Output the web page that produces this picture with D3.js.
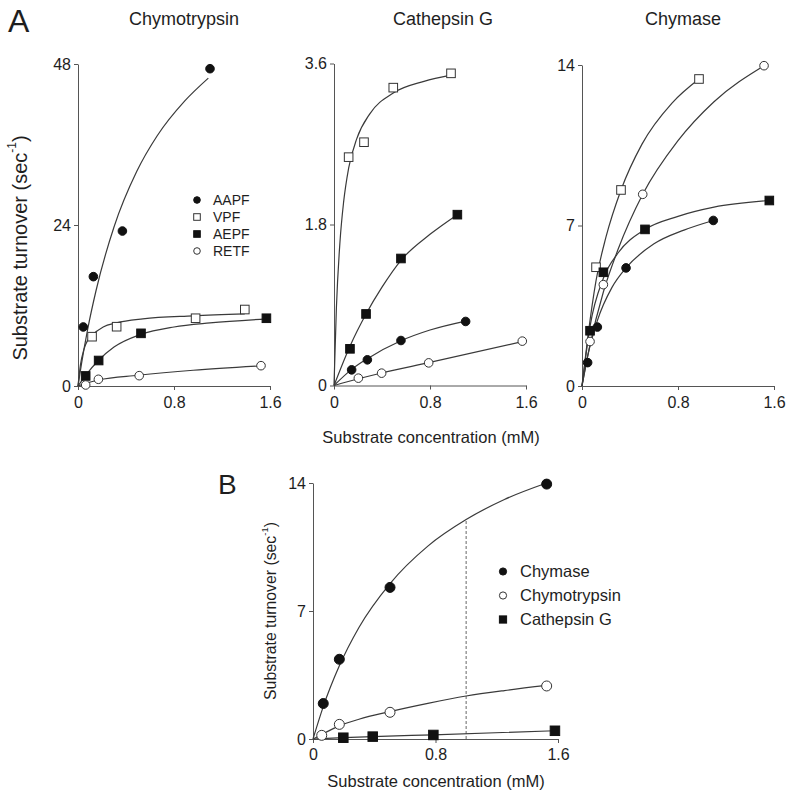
<!DOCTYPE html>
<html><head><meta charset="utf-8">
<script src="https://cdn.jsdelivr.net/npm/d3@7"></script>
<style>
body{margin:0;background:#fff}
svg{display:block}
text{font-family:"Liberation Sans",Arial,Helvetica,sans-serif;fill:#1e1e1e}
</style>
</head><body>
<svg id="chart" width="800" height="802"></svg>
<script>
// ---------- tick labels / categories ----------
const xTickValues = [0, 0.8, 1.6];
const panelTitles = ["Chymotrypsin", "Cathepsin G", "Chymase"];
const yTicksChymotrypsin = [0, 24, 48];
const yTicksCathepsinG = [0, 1.8, 3.6];
const yTicksChymase = [0, 7, 14];
const yTicksB = [0, 7, 14];
const substrates = ["AAPF", "VPF", "AEPF", "RETF"];
const enzymesB = ["Chymase", "Chymotrypsin", "Cathepsin G"];

// ---------- Panel A: Chymotrypsin (x mM, y sec^-1) ----------
const chyAAPF = [[0.044,8.8],[0.128,16.3],[0.37,23.1],[1.1,47.3]];
const chyAAPFfit = [[0,0],[0.03,3.4],[0.08,8.4],[0.15,14.2],[0.3,23.7],[0.49,32],[0.66,37.3],[0.89,42.5],[1.086,45.9]];
const chyVPF = [[0.117,7.35],[0.322,8.84],[0.98,10.1],[1.39,11.4]];
const chyVPFfit = [[0,0],[0.02,3.1],[0.05,5.5],[0.08,6.8],[0.114,7.5],[0.21,8.8],[0.32,9.4],[0.54,10.0],[0.96,10.45],[1.39,10.75]];
const chyAEPF = [[0.064,1.5],[0.172,3.8],[0.525,7.85],[1.57,10.1]];
const chyAEPFfit = [[0,0],[0.064,1.6],[0.17,3.8],[0.3,5.8],[0.525,7.7],[0.8,8.8],[1.1,9.4],[1.57,10.0]];
const chyRETF = [[0.064,0.15],[0.17,1.0],[0.51,1.54],[1.525,3.03]];
const chyRETFfit = [[0,0],[0.064,0.4],[0.17,0.9],[0.5,1.6],[0.96,2.35],[1.52,3.0]];

// ---------- Panel A: Cathepsin G ----------
const catVPF = [[0.122,2.553],[0.25,2.72],[0.494,3.33],[0.975,3.49]];
const catVPFfit = [[0,0],[0.02,0.87],[0.05,1.61],[0.08,2.05],[0.122,2.43],[0.19,2.76],[0.3,3.04],[0.494,3.27],[0.75,3.4],[0.975,3.47]];
const catAEPF = [[0.133,0.41],[0.267,0.80],[0.558,1.42],[1.028,1.91]];
const catAEPFfit = [[0,0],[0.133,0.44],[0.267,0.8],[0.4,1.1],[0.558,1.4],[0.8,1.69],[1.028,1.91]];
const catAAPF = [[0.147,0.175],[0.278,0.287],[0.558,0.503],[1.097,0.716]];
const catAAPFfit = [[0,0],[0.147,0.18],[0.278,0.3],[0.558,0.5],[0.8,0.62],[1.097,0.72]];
const catRETF = [[0.203,0.082],[0.397,0.138],[0.789,0.253],[1.569,0.496]];
const catRETFfit = [[0,0],[0.203,0.075],[0.397,0.14],[0.789,0.255],[1.569,0.49]];

// ---------- Panel A: Chymase ----------
const cmaVPF = [[0.117,5.18],[0.325,8.55],[0.975,13.39]];
const cmaVPFfit = [[0,0],[0.05,2.2],[0.117,4.6],[0.2,6.5],[0.325,8.55],[0.5,10.55],[0.75,12.34],[0.975,13.39]];
const cmaRETF = [[0.067,1.94],[0.178,4.42],[0.506,8.36],[1.517,13.97]];
const cmaRETFfit = [[0,0],[0.067,1.8],[0.178,4.1],[0.3,5.95],[0.506,8.36],[0.8,10.7],[1.1,12.4],[1.517,13.97]];
const cmaAEPF = [[0.067,2.41],[0.178,4.96],[0.525,6.83],[1.561,8.09]];
const cmaAEPFfit = [[0,0],[0.067,2.6],[0.178,4.7],[0.3,5.8],[0.525,6.83],[0.8,7.4],[1.1,7.8],[1.561,8.09]];
const cmaAAPF = [[0.047,1.02],[0.128,2.57],[0.367,5.15],[1.094,7.22]];
const cmaAAPFfit = [[0,0],[0.047,1.3],[0.128,2.85],[0.25,4.3],[0.367,5.15],[0.6,6.2],[0.85,6.8],[1.094,7.22]];

// ---------- Panel B: RETF with three enzymes ----------
const bChymase = [[0.067,1.94],[0.172,4.36],[0.503,8.29],[1.526,13.94]];
const bChymaseFit = [[0,0],[0.067,1.77],[0.172,4.0],[0.3,6.1],[0.503,8.5],[0.75,10.55],[1.0,12.0],[1.25,13.1],[1.526,14.0]];
const bChymotrypsin = [[0.057,0.2],[0.172,0.8],[0.503,1.46],[1.526,2.9]];
const bChymotrypsinFit = [[0,0],[0.057,0.25],[0.172,0.72],[0.3,1.08],[0.503,1.5],[0.75,1.95],[1.0,2.35],[1.25,2.65],[1.526,2.93]];
const bCathepsinG = [[0.198,0.07],[0.39,0.13],[0.786,0.22],[1.58,0.45]];
const bCathepsinGFit = [[0,0],[0.198,0.07],[0.39,0.13],[0.786,0.23],[1.58,0.45]];
const bDashX = 1.0;
const bDashTop = 12.0;

// ---------- drawing ----------
const svg = d3.select("#chart");
const AXIS = "#555", CURVE = "#3a3a3a", INK = "#111";

function marker(g, type, cx, cy, r, sq) {
  if (type.startsWith("circle")) {
    g.append("circle").attr("cx", cx).attr("cy", cy).attr("r", r)
      .attr("fill", type.endsWith("Filled") ? INK : "#fff")
      .attr("stroke", type.endsWith("Filled") ? INK : "#333").attr("stroke-width", 1);
  } else {
    const s = sq;
    g.append("rect").attr("x", cx - s/2).attr("y", cy - s/2).attr("width", s).attr("height", s)
      .attr("fill", type.endsWith("Filled") ? INK : "#fff")
      .attr("stroke", type.endsWith("Filled") ? INK : "#333").attr("stroke-width", 1);
  }
}

function panel(cfg) {
  const g = svg.append("g");
  const x = d3.scaleLinear().domain([0, 1.6]).range(cfg.xr);
  const y = d3.scaleLinear().domain([0, cfg.yTicks[2]]).range(cfg.yr);
  const fmt = d => String(d);
  const xa = g.append("g").attr("transform", `translate(0,${cfg.yr[0]})`)
    .call(d3.axisBottom(x).tickValues(xTickValues).tickFormat(fmt).tickSize(4).tickSizeOuter(0).tickPadding(cfg.xpad));
  const ya = g.append("g").attr("transform", `translate(${cfg.xr[0]},0)`)
    .call(d3.axisLeft(y).tickValues(cfg.yTicks).tickFormat(fmt).tickSize(4).tickSizeOuter(0).tickPadding(cfg.ypad));
  [xa, ya].forEach(a => {
    a.selectAll("path,line").attr("stroke", AXIS).attr("stroke-width", 1);
    a.selectAll("text").attr("font-size", 16).attr("fill", "#1e1e1e")
      .attr("font-family", '"Liberation Sans",Arial,sans-serif');
  });
  if (cfg.dash) {
    g.append("line").attr("x1", x(cfg.dash[0])).attr("x2", x(cfg.dash[0]))
      .attr("y1", y(0)).attr("y2", y(cfg.dash[1]))
      .attr("stroke", "#666").attr("stroke-width", 1).attr("stroke-dasharray", "3,2");
  }
  const line = d3.line().x(d => x(d[0])).y(d => y(d[1])).curve(d3.curveMonotoneX);
  cfg.series.forEach(s => {
    g.append("path").datum(s.fit).attr("d", line)
      .attr("fill", "none").attr("stroke", CURVE).attr("stroke-width", 1.2);
  });
  cfg.series.forEach(s => {
    s.pts.forEach(p => marker(g, s.marker, x(p[0]), y(p[1]), cfg.r, cfg.sq));
  });
  if (cfg.title) {
    g.append("text").attr("x", cfg.titleX).attr("y", 25).attr("text-anchor", "middle")
      .attr("font-size", 18).text(cfg.title);
  }
}

panel({xr:[78,270], yr:[386,64], yTicks:yTicksChymotrypsin, xpad:7, ypad:3, r:4.3, sq:8.6,
  title:panelTitles[0], titleX:184,
  series:[
    {pts:chyAAPF, fit:chyAAPFfit, marker:"circleFilled"},
    {pts:chyVPF, fit:chyVPFfit, marker:"squareOpen"},
    {pts:chyAEPF, fit:chyAEPFfit, marker:"squareFilled"},
    {pts:chyRETF, fit:chyRETFfit, marker:"circleOpen"}]});
panel({xr:[334,526], yr:[385.5,63.5], yTicks:yTicksCathepsinG, xpad:7, ypad:3, r:4.3, sq:8.6,
  title:panelTitles[1], titleX:443,
  series:[
    {pts:catVPF, fit:catVPFfit, marker:"squareOpen"},
    {pts:catAEPF, fit:catAEPFfit, marker:"squareFilled"},
    {pts:catAAPF, fit:catAAPFfit, marker:"circleFilled"},
    {pts:catRETF, fit:catRETFfit, marker:"circleOpen"}]});
panel({xr:[582,774], yr:[386,65], yTicks:yTicksChymase, xpad:7, ypad:3, r:4.3, sq:8.6,
  title:panelTitles[2], titleX:683,
  series:[
    {pts:cmaVPF, fit:cmaVPFfit, marker:"squareOpen"},
    {pts:cmaRETF, fit:cmaRETFfit, marker:"circleOpen"},
    {pts:cmaAEPF, fit:cmaAEPFfit, marker:"squareFilled"},
    {pts:cmaAAPF, fit:cmaAAPFfit, marker:"circleFilled"}]});
panel({xr:[313,558], yr:[739,483], yTicks:yTicksB, xpad:6, ypad:3, r:5, sq:9.5, dash:[bDashX, bDashTop],
  series:[
    {pts:bChymase, fit:bChymaseFit, marker:"circleFilled"},
    {pts:bChymotrypsin, fit:bChymotrypsinFit, marker:"circleOpen"},
    {pts:bCathepsinG, fit:bCathepsinGFit, marker:"squareFilled"}]});

// legends
const legA = svg.append("g");
const legAMarkers = ["circleFilled","squareOpen","squareFilled","circleOpen"];
substrates.forEach((s, i) => {
  const yb = 205 + i * 17;
  marker(legA, legAMarkers[i], 197, yb - 5, 3.3, 6.6);
  legA.append("text").attr("x", 213).attr("y", yb).attr("font-size", 14).text(s);
});
const legB = svg.append("g");
const legBMarkers = ["circleFilled","circleOpen","squareFilled"];
enzymesB.forEach((s, i) => {
  const yb = 577 + i * 24;
  marker(legB, legBMarkers[i], 503, yb - 5.5, 3.6, 7.2);
  legB.append("text").attr("x", 520).attr("y", yb).attr("font-size", 16.5).text(s);
});

// panel letters
svg.append("text").attr("x", 8).attr("y", 32).attr("font-size", 32).text("A");
svg.append("text").attr("x", 218).attr("y", 494).attr("font-size", 28).text("B");

// axis titles
function yLabel(cx, cy, fs) {
  const t = svg.append("text").attr("transform", `translate(${cx},${cy}) rotate(-90)`)
    .attr("text-anchor", "middle").attr("dominant-baseline", "central").attr("font-size", fs);
  t.append("tspan").text("Substrate turnover (sec");
  t.append("tspan").attr("font-size", fs * 0.6).attr("dy", -fs * 0.4).text("-1");
  t.append("tspan").attr("dy", fs * 0.4).text(")");
}
yLabel(20, 248, 20);
yLabel(270, 611, 15.8);
svg.append("text").attr("x", 431).attr("y", 443).attr("text-anchor", "middle")
  .attr("font-size", 16.5).text("Substrate concentration (mM)");
svg.append("text").attr("x", 436).attr("y", 787).attr("text-anchor", "middle")
  .attr("font-size", 16.5).text("Substrate concentration (mM)");
</script>
</body></html>
